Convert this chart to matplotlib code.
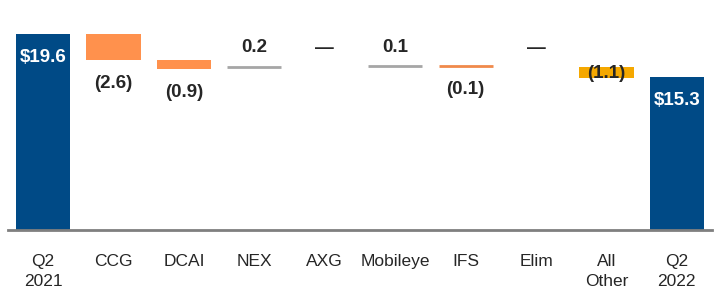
import matplotlib
matplotlib.use("Agg")
import matplotlib.pyplot as plt

categories = ["Q2\n2021", "CCG", "DCAI", "NEX", "AXG", "Mobileye", "IFS", "Elim", "All\nOther", "Q2\n2022"]
start_total = 19.6
end_total = 15.3
changes = [-2.6, -0.9, 0.2, 0.0, 0.1, -0.1, 0.0, -1.1]
change_labels = ["(2.6)", "(0.9)", "0.2", "\u2014", "0.1", "(0.1)", "\u2014", "(1.1)"]
change_colors = ["#FF914D", "#FF914D", "#A6A6A6", None, "#A6A6A6", "#F08A4B", None, "#F5A800"]

BLUE = "#004A86"
TEXT = "#262626"
FS = 13.5

plt.rcParams["font.family"] = ["Liberation Sans", "DejaVu Sans"]

fig = plt.figure(figsize=(7.2, 3.0), dpi=100)
ax = fig.add_axes([0.011, 0.233, 0.978, 0.683])

w = 0.77
ax.bar(0, start_total, width=w, color=BLUE)
ax.text(0, start_total - 2.3, f"${start_total}", color="white", ha="center", va="center",
        fontsize=FS, fontweight="bold")

level = start_total
for i, (v, lab, col) in enumerate(zip(changes, change_labels, change_colors), start=1):
    new = level + v
    if v == 0:
        ax.text(i, 18.2, lab, ha="center", va="center", fontsize=FS, fontweight="bold", color=TEXT)
    elif abs(v) <= 0.2:
        y = max(level, new)
        ax.plot([i - w / 2, i + w / 2], [y, y], color=col, lw=2, solid_capstyle="butt")
        if v > 0:
            ax.text(i, 18.3, lab, ha="center", va="center", fontsize=FS, fontweight="bold", color=TEXT)
        else:
            ax.text(i, y - 2.3, lab, ha="center", va="center", fontsize=FS, fontweight="bold", color=TEXT)
    else:
        ax.bar(i, abs(v), bottom=min(level, new), width=w, color=col)
        if i == len(changes):
            ax.text(i, (level + new) / 2 - 0.1, lab, ha="center", va="center", fontsize=FS,
                    fontweight="bold", color=TEXT)
        else:
            ax.text(i, new - 2.3, lab, ha="center", va="center", fontsize=FS,
                    fontweight="bold", color=TEXT)
    level = new

n = len(categories) - 1
ax.bar(n, end_total, width=w, color=BLUE)
ax.text(n, end_total - 2.3, f"${end_total}", color="white", ha="center", va="center",
        fontsize=FS, fontweight="bold")

ax.set_xlim(-0.5, n + 0.5)
ax.set_ylim(0, 20.5)
ax.set_xticks(range(len(categories)))
ax.set_xticklabels(categories, fontsize=12.5, color=TEXT, linespacing=1.45)
ax.tick_params(axis="x", length=0, pad=17)
ax.set_yticks([])
for s in ["top", "right", "left"]:
    ax.spines[s].set_visible(False)
ax.spines["bottom"].set_color("#7F7F7F")
ax.spines["bottom"].set_linewidth(2)

fig.savefig("out.png", dpi=100)
